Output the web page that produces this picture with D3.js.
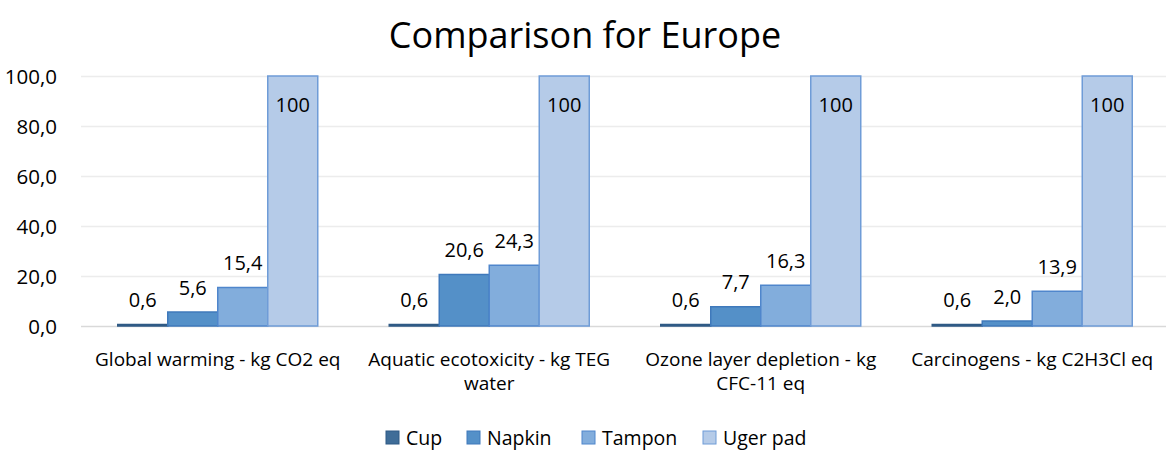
<!DOCTYPE html>
<html>
<head>
<meta charset="utf-8">
<script src="https://cdn.jsdelivr.net/npm/d3@7"></script>
<style>
  body { margin: 0; background: #fff; }
  text { font-family: 'Open Sans', sans-serif; fill: #000; }
</style>
</head>
<body>
<div id="chart"></div>
<script>
// data
var categories = [
  ["Global warming - kg CO2 eq"],
  ["Aquatic ecotoxicity - kg TEG", "water"],
  ["Ozone layer depletion - kg", "CFC-11 eq"],
  ["Carcinogens - kg C2H3Cl eq"]
];
var series = ["Cup", "Napkin", "Tampon", "Uger pad"];
var cup    = [0.6, 0.6, 0.6, 0.6];
var napkin = [5.6, 20.6, 7.7, 2.0];
var tampon = [15.4, 24.3, 16.3, 13.9];
var uger   = [100, 100, 100, 100];
var yTicks = [0, 20, 40, 60, 80, 100];

var fills   = ["#3f6d98", "#5490c8", "#82addc", "#b5cbe8"];
var strokes = ["#2f5a85", "#3f79bb", "#4f86cc", "#6f9cd7"];

var width = 1166, height = 452;
var svg = d3.select("#chart").append("svg")
	.attr("width", width)
	.attr("height", height);

var values = [cup, napkin, tampon, uger];
var rows = categories.map(function(c, i){
	return { label: c, vals: values.map(function(v){ return v[i]; }) };
});

var x0 = d3.scaleBand().domain(d3.range(categories.length)).range([82, 1168]);
var x1 = d3.scaleBand().domain(series).range([0, 200]);
var barOffset = (x0.bandwidth() - 200) / 2;
var y = d3.scaleLinear().domain([0, 100]).range([326, 76]);

var fmt = function(v){ return d3.format(".1f")(v).replace(".", ","); };

// title
svg.append("text")
	.attr("x", 585)
	.attr("y", 48)
	.attr("text-anchor", "middle")
	.attr("font-size", "36px")
	.text("Comparison for Europe");

// gridlines
svg.append("g")
	.selectAll("line")
	.data(yTicks)
	.enter().append("line")
	.attr("x1", 81).attr("x2", width)
	.attr("y1", function(d){ return Math.round(y(d)) + 0.5; })
	.attr("y2", function(d){ return Math.round(y(d)) + 0.5; })
	.attr("stroke", function(d){ return d === 0 ? "#d9d9d9" : "#ececec"; })
	.attr("stroke-width", 1.5);

// y axis labels
var yAxis = d3.axisLeft(y).tickValues(yTicks).tickFormat(fmt).tickSize(0).tickPadding(0);
var ya = svg.append("g")
	.attr("transform", "translate(57,0)")
	.call(yAxis);
ya.select(".domain").remove();
ya.selectAll("text")
	.attr("font-size", "20.5px")
	.attr("font-family", "'Open Sans', sans-serif")
	.attr("fill", "#000")
	.attr("dy", "0.35em");

// bars
var groups = svg.append("g")
	.selectAll("g")
	.data(rows)
	.enter().append("g")
	.attr("transform", function(d, i){ return "translate(" + (x0(i) + barOffset) + ",0)"; });

groups.selectAll("rect")
	.data(function(d){ return d.vals.map(function(v, j){ return { s: series[j], v: v, j: j }; }); })
	.enter().append("rect")
	.attr("x", function(d){ return x1(d.s); })
	.attr("y", function(d){ return y(d.v); })
	.attr("width", x1.bandwidth())
	.attr("height", function(d){ return y(0) - y(d.v); })
	.attr("fill", function(d){ return fills[d.j]; })
	.attr("stroke", function(d){ return strokes[d.j]; })
	.attr("stroke-width", 1.5);

// value labels
groups.selectAll("text.val")
	.data(function(d){ return d.vals.map(function(v, j){ return { s: series[j], v: v, j: j }; }); })
	.enter().append("text")
	.attr("class", "val")
	.attr("x", function(d){ return x1(d.s) + x1.bandwidth() / 2; })
	.attr("y", function(d){ return d.v >= 100 ? y(d.v) + 36 : y(d.v) - 17.5; })
	.attr("text-anchor", "middle")
	.attr("font-size", "20px")
	.text(function(d){ return d.v >= 100 ? "100" : fmt(d.v); });

// category labels
var cat = svg.append("g")
	.selectAll("text")
	.data(rows)
	.enter().append("text")
	.attr("x", function(d, i){ return x0(i) + x0.bandwidth() / 2; })
	.attr("y", 366)
	.attr("text-anchor", "middle")
	.attr("font-size", "19px");
cat.selectAll("tspan")
	.data(function(d){ return d.label; })
	.enter().append("tspan")
	.attr("x", function(){ return d3.select(this.parentNode).attr("x"); })
	.attr("dy", function(d, k){ return k === 0 ? 0 : 24; })
	.text(function(d){ return d; });

// legend
var legX = [386, 467, 582, 703];
var leg = svg.append("g")
	.selectAll("g")
	.data(series)
	.enter().append("g")
	.attr("transform", function(d, i){ return "translate(" + legX[i] + ",431)"; });
leg.append("rect")
	.attr("width", 13).attr("height", 13)
	.attr("fill", function(d, i){ return fills[i]; })
	.attr("stroke", function(d, i){ return strokes[i]; })
	.attr("stroke-width", 1);
leg.append("text")
	.attr("x", 20)
	.attr("y", 14)
	.attr("font-size", "19.5px")
	.text(function(d){ return d; });
</script>
</body>
</html>
